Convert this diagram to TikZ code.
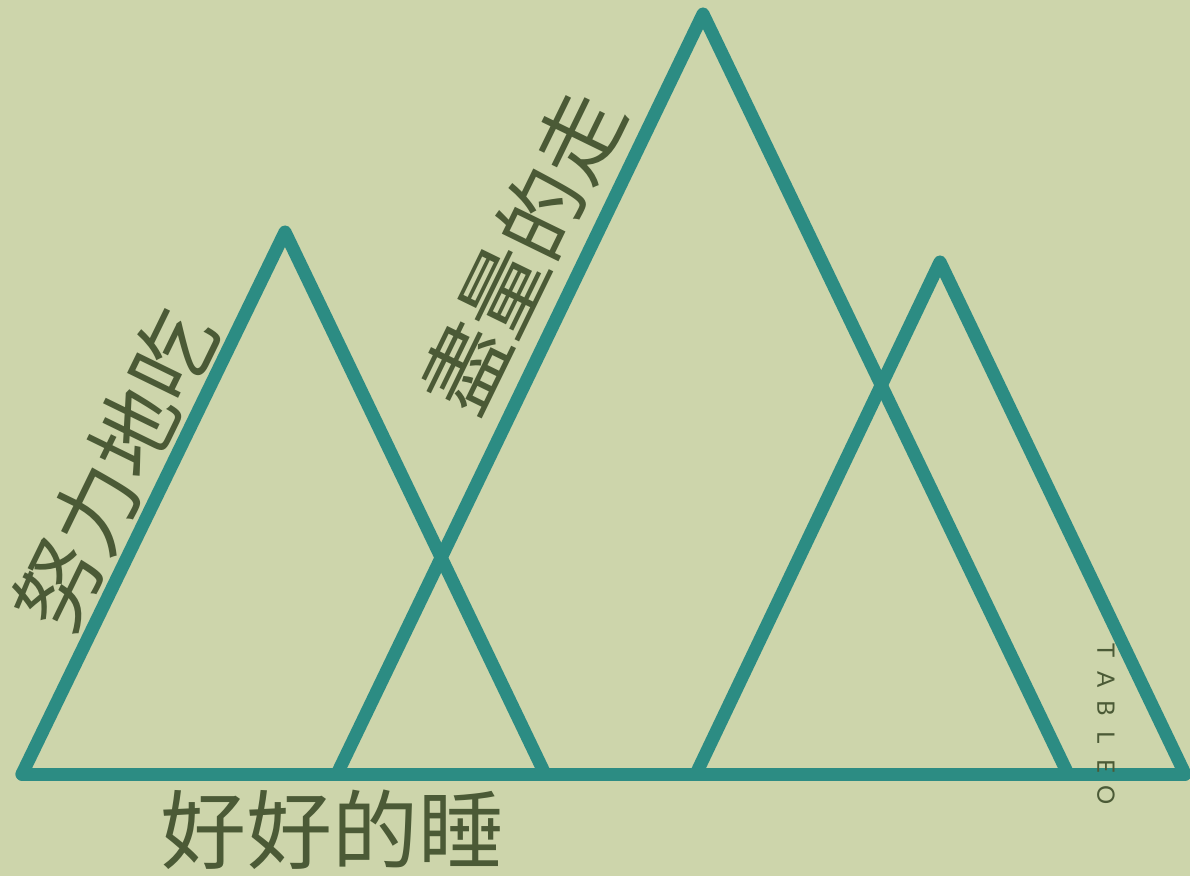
\documentclass[tikz,border=0pt]{standalone}
\usepackage{fontspec}
\newfontfamily\cjk{Noto Sans CJK TC}
\newfontfamily\latin{Lato}
\definecolor{bgcol}{HTML}{CDD5AB}
\definecolor{teal1}{HTML}{2C8C83}
\definecolor{textcol}{HTML}{4B5A36}
\newcommand\lbx[1]{\makebox[28.8pt]{#1}}
\begin{document}
\begin{tikzpicture}[x=1pt,y=1pt,
  mount/.style={draw=teal1,line width=13pt,line join=round,line cap=round},
  bigtext/.style={text=textcol,font=\cjk\fontsize{86}{86}\selectfont,inner sep=0pt},
  smalltext/.style={text=textcol,font=\latin\fontsize{24}{24}\selectfont,inner sep=0pt}]
\fill[bgcol] (0,0) rectangle (1190,876);
\useasboundingbox (0,0) rectangle (1190,876);
% vertices
\coordinate (L1) at (22,102);
\coordinate (A1) at (285,644);
\coordinate (R1) at (545,102);
\coordinate (L2) at (337,102);
\coordinate (A2) at (703,862);
\coordinate (R2) at (1068,102);
\coordinate (L3) at (696,102);
\coordinate (A3) at (940,614);
\coordinate (R3) at (1185,102);
% mountains
\draw[mount] (L1) -- (A1) -- (R1);
\draw[mount] (L2) -- (A2) -- (R2);
\draw[mount] (L3) -- (A3) -- (R3);
\draw[mount] (L1) -- (R3);
% texts
\node[bigtext,rotate=64] (eat) at (115,406) {努力地吃};
\node[bigtext,rotate=64] (walk) at (522,624) {盡量的走};
\node[bigtext] (sleep) at (332,46) {好好的睡};
\node[smalltext,rotate=-90] (brand) at (1106,153) {\lbx{T}\lbx{A}\lbx{B}\lbx{L}\lbx{E}\lbx{O}};
\end{tikzpicture}
\end{document}
